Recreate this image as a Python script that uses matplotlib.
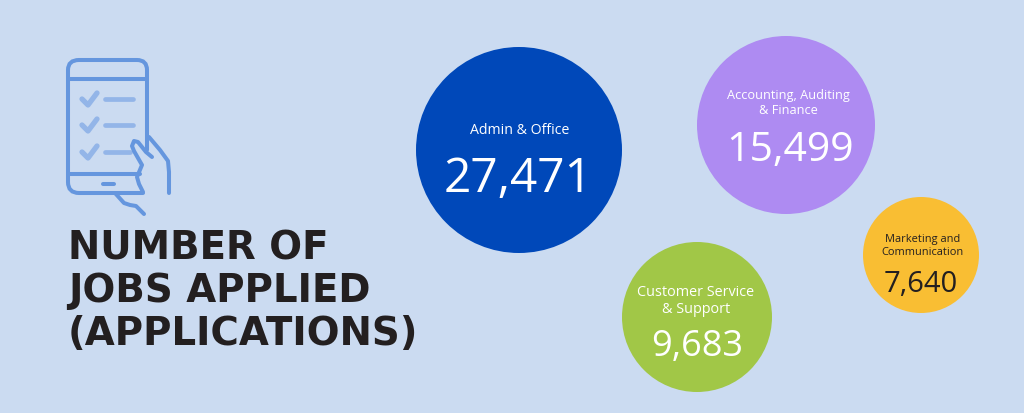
import matplotlib
matplotlib.use('Agg')
import matplotlib.pyplot as plt
from matplotlib.patches import Circle, PathPatch
from matplotlib.path import Path

categories = ['Admin & Office', 'Accounting, Auditing\n& Finance', 'Customer Service\n& Support', 'Marketing and\nCommunication']
values = [27471, 15499, 9683, 7640]
title_lines = ['NUMBER OF', 'JOBS APPLIED', '(APPLICATIONS)']

# layout, in pixels of the 1024x413 picture
centers = [(519, 150), (786, 125), (697, 317), (921, 255)]
radii = [103, 89, 75, 58]
colors = ['#0048B9', '#AE8BF2', '#A1C747', '#F9BE33']
text_colors = ['white', 'white', 'white', '#231F20']
label_sizes = [10.2, 9.2, 10.4, 7.9]
value_sizes = [34.5, 29.5, 26, 21]
label_y = [130, 103, 301, 246]
value_y = [179, 151, 347, 284]
label_x = [520, 788, 696, 923]
value_x = [518, 790, 697, 921]
title_y = [249, 291, 334]

bg = '#CBDBF1'
icon = '#6596DE'
icon_light = '#93B5E8'

fig = plt.figure(figsize=(10.24, 4.13), dpi=100, facecolor=bg)
ax = fig.add_axes([0, 0, 1, 1])
ax.set_xlim(0, 1024)
ax.set_ylim(413, 0)
ax.axis('off')

for i in range(len(values)):
    ax.add_patch(Circle(centers[i], radii[i], color=colors[i], lw=0))
    ax.text(label_x[i], label_y[i], categories[i], ha='center', va='center', color=text_colors[i],
            fontsize=label_sizes[i], family='Open Sans', linespacing=1.2)
    ax.text(value_x[i], value_y[i], f'{values[i]:,}', ha='center', va='center', color=text_colors[i],
            fontsize=value_sizes[i], family='Open Sans')

for line, y in zip(title_lines, title_y):
    ax.text(68, y, line, fontsize=27.9, fontweight='bold', family='DejaVu Sans', color='#231F20', va='center')

# phone icon
def stroke(xs, ys, c=icon, lw=2.9):
    ax.plot(xs, ys, color=c, lw=lw, solid_capstyle='round', solid_joinstyle='round')

body = Path([(147, 150), (147, 70), (147, 60), (137, 60), (79, 60), (68, 60), (68, 70), (68, 182), (68, 193), (79, 193), (143, 193)],
            [Path.MOVETO, Path.LINETO, Path.CURVE3, Path.CURVE3, Path.LINETO, Path.CURVE3, Path.CURVE3, Path.LINETO, Path.CURVE3, Path.CURVE3, Path.LINETO])
ax.add_patch(PathPatch(body, fill=False, ec=icon, lw=2.9, capstyle='round'))
stroke([68, 147], [79, 79])
stroke([68, 140], [174, 174])
stroke([103, 114], [184, 184])

for y, end in zip([99, 125, 152], [133, 133, 130]):
    stroke([82, 88, 97], [y, y + 6, y - 6], icon_light, 3.8)
    stroke([105, end], [y, y], icon_light, 3.4)

stroke([152, 146, 138, 134, 132, 134, 142, 137, 139, 143], [157, 152, 142, 141, 146, 151, 165, 177, 184, 192])
stroke([149, 160, 168, 169, 169], [137, 150, 161, 172, 193])
stroke([115, 124, 130, 136, 144], [193, 203, 205, 206, 214])

fig.savefig('out.png', dpi=100, facecolor=bg)
